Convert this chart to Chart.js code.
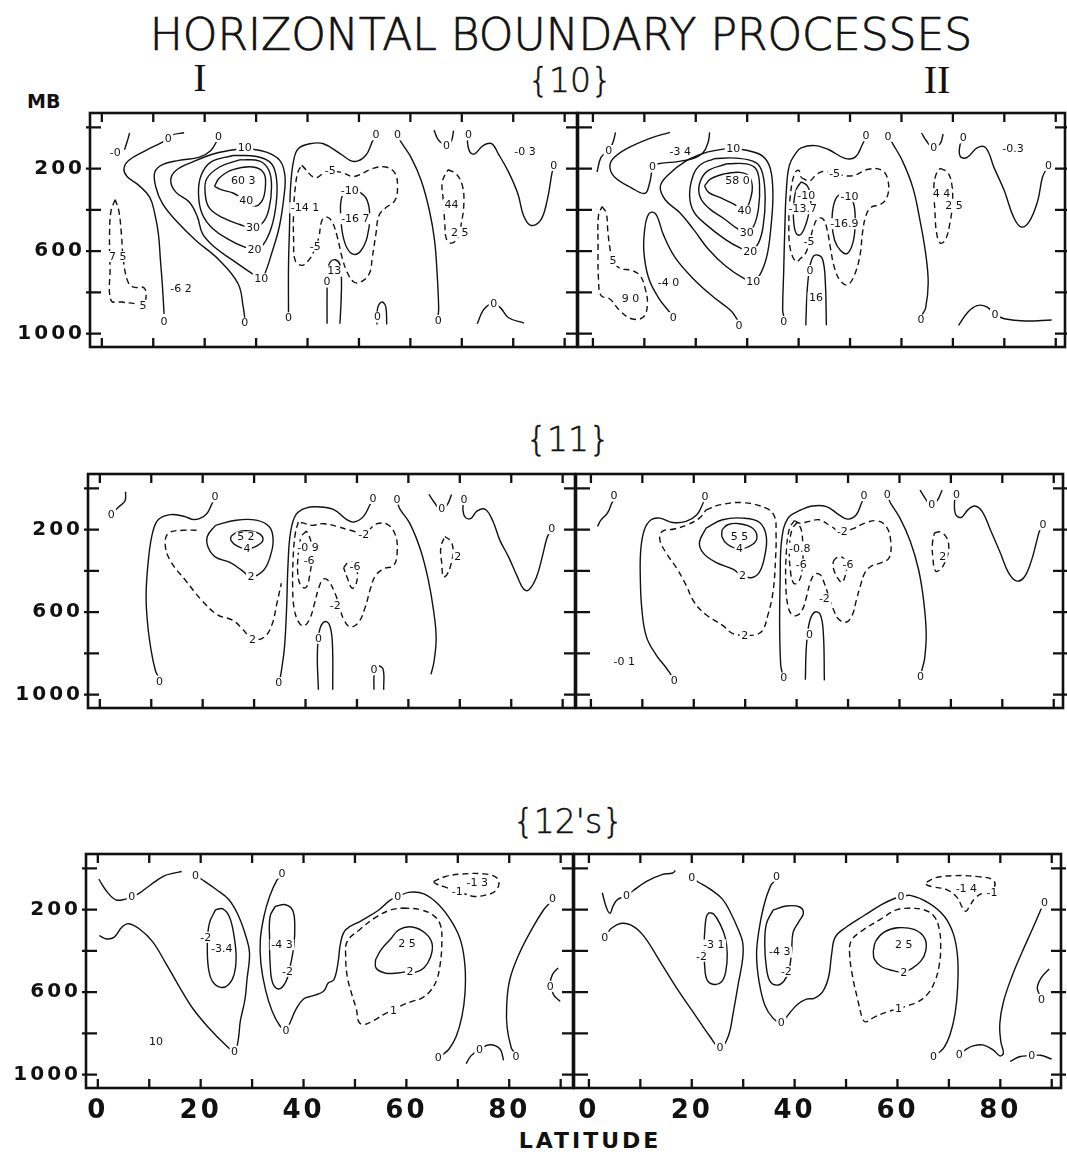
<!DOCTYPE html>
<html><head><meta charset="utf-8">
<script src="https://cdn.jsdelivr.net/npm/chart.js@4/dist/chart.umd.min.js"></script>
<style>
html,body{margin:0;padding:0;background:#fff;}
body{width:1067px;height:1156px;position:relative;overflow:hidden;font-family:"DejaVu Sans",sans-serif;color:#111;}
canvas{position:absolute;}
.t{position:absolute;white-space:nowrap;line-height:1;color:#111;}
</style></head><body>
<div class="t" style="left:561px;top:13px;transform:translateX(-50%);font-size:44px;font-weight:200;-webkit-text-stroke:0.7px #111;">HORIZONTAL BOUNDARY PROCESSES</div>
<div class="t" style="left:27px;top:92px;font-size:19px;font-weight:bold;">MB</div>
<div class="t" style="left:200px;top:58px;transform:translateX(-50%);font-family:'Liberation Serif',serif;font-size:40px;">I</div>
<div class="t" style="left:937px;top:60px;transform:translateX(-50%);font-family:'Liberation Serif',serif;font-size:40px;">II</div>
<div class="t" style="left:570px;top:64px;transform:translateX(-50%);font-size:33px;font-weight:200;-webkit-text-stroke:0.5px #111;">{10}</div>
<div class="t" style="left:568px;top:423px;transform:translateX(-50%);font-size:33px;font-weight:200;-webkit-text-stroke:0.5px #111;">{11}</div>
<div class="t" style="left:568px;top:805px;transform:translateX(-50%);font-size:33px;font-weight:200;-webkit-text-stroke:0.5px #111;">{12's}</div>
<div class="t" style="left:590px;top:1130px;transform:translateX(-50%);font-size:22px;font-weight:bold;letter-spacing:3px;">LATITUDE</div>

<canvas id="cA" width="600" height="274" style="left:2px;top:93px"></canvas>
<canvas id="cB" width="525" height="274" style="left:548px;top:93px"></canvas>
<canvas id="cC" width="600" height="274" style="left:0px;top:454px"></canvas>
<canvas id="cD" width="525" height="274" style="left:546px;top:454px"></canvas>
<canvas id="cE" width="600" height="312" style="left:-2px;top:834px"></canvas>
<canvas id="cF" width="525" height="312" style="left:544px;top:834px"></canvas>

<script>
// ---- axis values ----
const latTickLabels = [0, 20, 40, 60, 80];
const latTickMarks = [0, 10, 20, 30, 40, 50, 60, 70, 80, 90];
const pressTickLabels = [200, 600, 1000];
const pressTickMarks = [0, 200, 400, 600, 800, 1000];

// ---- {10} I : contours as [latitude, pressure mb] ----
const p10I_solid = [
  [[5.4,27],[4.9,71],[4.4,108]],
  [[16,26],[13.7,36],[12.9,52],[11.8,71],[8.5,112],[5.2,160],[4.3,200],[4.9,238],[7.2,281],[9.3,338],[10.3,419],[11,516],[11.4,645],[11.8,775],[12.1,905]],
  [[22.6,55],[21.2,112],[19,144],[15,160],[11.8,180],[10.3,217],[10.5,289],[11.8,370],[14.4,451],[18.3,548],[22.9,645],[26.5,758],[27.5,872],[27.8,925]],
  [[27.8,100],[32,120],[34.6,160],[35.6,233],[35.4,338],[34.5,483],[33,613],[31.7,710],[31,734],[28.8,702],[25.5,645],[21.9,580],[19.6,516],[18.6,435],[17,362],[14.4,314],[13.4,257],[14.4,209],[17.6,168],[22.2,125],[27.8,100]],
  [[25.5,136],[30.1,141],[33,176],[34,257],[33.9,370],[33,483],[31.4,568],[29.7,593],[27.8,581],[24.8,545],[21.6,492],[19.5,419],[18.8,322],[19.3,233],[21.2,168],[25.5,136]],
  [[26.8,157],[30.7,163],[32.5,209],[33,289],[32.5,395],[31.4,459],[29.4,487],[26.8,471],[23.5,438],[20.9,390],[20.1,322],[20.4,249],[22.9,192],[26.8,157]],
  [[21.9,286],[22.9,244],[25.5,205],[29.4,192],[31.5,222],[31.8,289],[31.2,354],[29.7,383],[28.1,357],[25.5,318],[23.2,302],[21.9,286]],
  [[36.3,900],[36.3,677],[36.5,483],[36.7,289],[37.3,160],[38.2,103],[40.5,79],[43.1,79],[46.4,128],[49,165],[51.3,136],[52.7,63],[53.2,45]],
  [[57.7,45],[58.2,71],[60.1,144],[62.1,257],[63.7,403],[64.7,548],[65.2,710],[65.5,872],[65.4,915]],
  [[64.6,12],[65.3,55],[66.3,80],[67.3,85],[68,65],[68.4,15]],
  [[71.3,45],[71.1,71],[71.6,120],[72.5,128],[74.2,87],[75.8,79],[77.1,128],[79.1,217],[80.9,322],[82,427],[83.4,475],[85.3,451],[86.6,354],[87.5,225],[87.8,195]],
  [[48.2,306],[50.1,314],[51.6,354],[52.1,435],[51.6,532],[50.4,597],[49,616],[47.6,581],[46.7,500],[46.4,386],[46.9,325],[48.2,306]],
  [[43.8,952],[43.8,807],[43.9,694],[44.4,653],[45.4,642],[46.3,665],[46.6,742],[46.5,855],[46.3,952]],
  [[53.5,956],[53.6,880],[54.4,847],[55.2,868],[55.4,956]],
  [[73,952],[74.2,885],[75.6,855],[76.2,855],[77.5,874],[79.1,923],[82.1,949]]
];
const p10I_dashed = [
  [[2.6,351],[1.8,403],[1.5,516],[1.6,677],[1.8,839],[3.9,847],[6.5,855],[8,863],[8.6,823],[8.2,778],[6.2,775],[5.1,750],[4.2,645],[3.8,516],[3.3,403],[2.6,351]],
  [[38.9,184],[41.5,244],[43.5,217],[46.4,217],[49,238],[52.6,200],[55.2,192],[57,222],[57.5,289],[57,354],[55.2,390],[53.9,427],[53.3,516],[52.6,629],[52,710],[50.3,750],[49,750],[47.7,702],[46.7,629],[45.8,532],[44.8,459],[43.8,435],[42.8,451],[42.2,532],[41.3,597],[40.2,645],[38.9,669],[37.6,645],[37.3,548],[37.3,403],[37.7,273],[38.2,212],[38.9,184]],
  [[67.3,205],[68.9,225],[70.1,281],[70.4,370],[69.9,467],[69.3,532],[68,561],[67,540],[66.7,467],[66.4,354],[66.2,265],[67.3,205]]
];
const p10I_labels = [
  ["-0",2.6,120],["0",12.9,52],["0",12.1,944],["0",22.7,44],["0",27.8,949],["10",27.8,100],["10",31,734],
  ["20",29.7,593],["30",29.4,487],["40",28.1,357],["60 3",27.5,257],["-6 2",15.4,783],["7 5",3.1,626],["5",8,863],
  ["0",36.3,923],["0",53.3,36],["0",57.5,36],["0",65.4,936],["0",67,86],["0",71.3,36],["0",87.9,184],["-0 3",82.3,115],
  ["-5",44.4,212],["-5",41.5,576],["-14 1",39.5,390],["-10",48.2,306],["-16 7",49.3,443],["0",43.8,750],["13",45.2,697],
  ["0",53.6,920],["0",76.2,855],["44",68,374],["2 5",69.6,508]
];

// ---- {10} II ----
const p10II_solid = [
  [[4.4,24],[3.9,72],[3.1,112],[1.6,144],[0.8,216]],
  [[15,24],[11.1,53],[6.5,104],[3.9,152],[3.3,192],[4.2,240],[7.5,293],[10.1,320],[11,272],[11.4,219],[11.6,192],[12.7,176],[15.7,168],[19.3,152],[21.4,123],[22.4,72],[22.7,24]],
  [[15.2,905],[12.7,824],[10.8,728],[9.9,600],[10.1,488],[10.6,432],[11.4,411],[12.4,427],[13.7,520],[16,632],[19.6,736],[23.5,824],[26.8,888],[28.1,933]],
  [[27.3,101],[30.1,112],[33,139],[34.5,200],[35,328],[34.6,488],[33.9,616],[32.7,704],[31.2,747],[29.1,728],[25.8,672],[22.5,592],[19.6,496],[17,416],[14.1,352],[13.1,288],[14.4,235],[18.3,160],[22.2,120],[25.8,104],[27.3,101]],
  [[23.5,152],[27.8,149],[31.7,171],[33,224],[33.5,344],[33.1,480],[32.2,560],[30.6,603],[28.8,587],[25.8,544],[22.2,475],[19.6,408],[18.8,328],[19.5,232],[20.9,181],[23.5,152]],
  [[26.1,176],[30.1,178],[31.8,205],[32.4,280],[32.2,392],[31.3,477],[29.9,512],[28.1,491],[25.5,443],[22.7,395],[20.9,341],[20.7,277],[22.2,213],[26.1,176]],
  [[21.7,283],[22.9,250],[25.5,226],[28.5,218],[30.3,235],[31,288],[30.6,350],[29.9,392],[29.3,402],[27.5,373],[24.8,341],[22.5,315],[21.7,283]],
  [[37.1,915],[36.9,888],[37.1,696],[37.3,504],[37.6,312],[38.2,184],[39.5,123],[40.5,99],[43.1,88],[45.8,107],[49,150],[51,144],[52.4,83],[53,50]],
  [[57.6,50],[58.4,83],[60.2,163],[62.2,291],[63.6,451],[64.7,611],[65.2,755],[64.7,875],[64,910]],
  [[63.9,27],[64.9,67],[66,96],[67.5,80],[68.1,32]],
  [[72,60],[71.4,83],[71.4,139],[72.7,147],[74.7,99],[76.4,99],[78,195],[80,307],[81.8,435],[83.3,483],[84.9,454],[86.5,355],[87.4,243],[88.3,195]],
  [[40.5,264],[39.5,304],[39,392],[39.2,488],[40,523],[41,496],[42,416],[42.4,336],[41.7,283],[40.5,264]],
  [[50,336],[50.8,379],[51,467],[50.6,555],[49.5,611],[48.2,598],[47,547],[46.5,459],[46.9,368],[48,326],[50,336]],
  [[41.4,960],[41.6,819],[42,707],[42.7,632],[43.7,619],[44.7,643],[45.2,755],[45.4,960]],
  [[71.1,960],[72.9,896],[74.7,864],[76.6,870],[78.2,907],[80,928],[84,939],[89.2,934]]
];
const p10II_dashed = [
  [[1.8,384],[2.6,416],[2.9,504],[3.4,600],[3.9,645],[5.2,683],[7.5,693],[9.2,720],[10.1,776],[10.6,856],[9.8,920],[7.5,928],[5.2,888],[3.3,832],[1.6,816],[1.1,744],[1,584],[1.1,424],[1.8,384]],
  [[40.5,243],[42.1,259],[43.4,230],[44.7,214],[47,224],[50.3,235],[53.6,203],[56.2,208],[57.4,259],[57.2,339],[55.9,374],[54.1,387],[53.1,427],[52.4,515],[52,611],[51,707],[49.6,763],[48.2,747],[47,683],[46.2,587],[45.5,491],[44.7,443],[43.7,443],[42.9,483],[42.2,547],[41.4,608],[40.4,635],[39.5,651],[38.4,592],[38.1,472],[38.4,328],[39.2,224],[40,208],[40.5,243]],
  [[67.5,198],[69,219],[69.8,278],[69.9,371],[69.4,467],[68.5,547],[67.5,560],[66.8,507],[66.5,403],[66.3,291],[66.7,230],[67.5,198]]
];
const p10II_labels = [
  ["0",3.1,112],["0",11.6,192],["-3 4",17,117],["0",15.6,923],["0",28.4,960],["-4 0",14.7,752],["10",27.3,101],["10",31.2,747],
  ["20",30.6,603],["30",29.9,512],["40",29.5,405],["58 0",28.1,256],["5",3.9,645],["9 0",7.3,832],["0",37.1,941],["0",53.1,40],
  ["0",57.4,43],["0",63.8,934],["0",66.3,99],["0",72,51],["0",88.6,184],["-0.3",81.7,102],["-5",47,224],["-5",42,555],
  ["-10",41.5,330],["-13.7",40.8,395],["-10",49.9,336],["-16.9",48.9,467],["0",42.2,694],["16",43.4,827],["4 4",67.8,323],
  ["2 5",70.2,379],["0",78.2,907]
];

// ---- {11} I ----
const p11I_solid = [
  [[5,16],[4.9,60],[3.7,89],[2.8,112]],
  [[22.4,55],[21.9,70],[20.7,125],[18.5,151],[16.3,135],[13.7,127],[11.4,151],[10.3,211],[9.5,333],[9,512],[9.3,659],[10,789],[10.8,883],[11.3,910]],
  [[22.5,179],[26.5,154],[30.4,154],[33,187],[33.7,252],[33.1,333],[31.8,398],[29.4,428],[27.5,395],[25.2,358],[22.5,333],[21.1,288],[20.9,233],[22.5,179]],
  [[25.5,233],[26.8,211],[29.1,206],[31.2,223],[31.7,252],[30.7,276],[28.6,293],[26.5,276],[25.5,252],[25.5,233]],
  [[35.1,915],[35.3,886],[35.9,772],[36.3,593],[36.6,366],[37.1,211],[38.2,125],[40.2,94],[42.2,89],[45.4,102],[48,151],[49.4,163],[51.2,138],[52.6,76],[53,60]],
  [[42.5,976],[42.3,805],[42.7,691],[43.6,647],[44.6,659],[45.2,740],[45.3,976]],
  [[53.3,976],[53.4,894],[54.2,862],[55.1,878],[55.2,976]],
  [[57.9,65],[58.3,98],[60.3,171],[62.4,301],[63.9,447],[64.9,593],[65.4,724],[65,837],[64.4,902]],
  [[64,29],[65.2,73],[66.2,102],[67.5,81],[68.4,29]],
  [[70.8,65],[70.6,98],[71,138],[72.1,146],[73.4,109],[75,102],[76.5,163],[77.8,252],[79.5,333],[81.1,423],[82.4,488],[83.4,493],[84.9,431],[86.1,325],[86.9,244],[87.6,205]]
];
const p11I_dashed = [
  [[18.8,203],[16.3,203],[13.4,216],[12.7,268],[13.7,350],[16.7,447],[19.9,545],[22.9,613],[25.8,639],[27.8,683],[29.7,732],[32,720],[33.5,659],[34.4,561],[35.3,460]],
  [[40.2,207],[39.2,233],[38.6,317],[38.5,415],[39.1,472],[40.1,480],[40.8,423],[41.2,333],[41,252],[40.2,207]],
  [[38.6,163],[38,220],[37.6,333],[37.5,480],[37.8,585],[38.7,650],[39.7,667],[40.8,634],[41.8,553],[42.6,480],[43.5,439],[44.4,447],[45.8,512],[46.6,577],[47.5,639],[48.7,672],[50.3,650],[51.6,577],[52.6,488],[53.6,423],[55.2,390],[57.1,374],[57.8,317],[57.5,228],[55.9,174],[53.6,174],[51.6,216],[48.7,203],[46.1,184],[43.5,171],[41.2,179],[39.5,167],[38.6,163]],
  [[47.4,385],[48.4,358],[49.7,363],[50.1,415],[49.7,472],[49,483],[48.2,439],[47.4,385]],
  [[67.1,233],[68.2,255],[68.7,298],[68.3,366],[67.5,418],[66.8,428],[66.5,366],[66.3,285],[67.1,233]]
];
const p11I_labels = [
  ["0",2.2,125],["0",22.4,41],["0",11.6,935],["2",29.7,732],["2",29.4,428],["4",28.6,293],["5 2",28.4,236],["0",34.8,943],
  ["0",53.1,49],["-0 9",40.5,285],["-6",40.7,350],["-2",51.3,223],["-2",45.8,569],["-6",49.6,380],["0",42.5,727],["0",53.3,880],
  ["0",57.8,52],["0",66.5,98],["0",70.8,54],["0",87.9,195],["2",69.6,333]
];

// ---- {11} II ----
const p11II_solid = [
  [[4.4,55],[4.1,69],[3.2,120],[1.9,155],[1.3,184]],
  [[22,55],[21.8,72],[20.6,128],[18.5,160],[15.9,165],[13.4,144],[11.7,152],[10.4,200],[9.7,296],[9.6,424],[9.9,584],[10.8,720],[12.7,808],[14.7,872],[15.6,905]],
  [[22.4,192],[25.6,152],[29.5,144],[32.8,165],[34.1,232],[33.8,328],[32.8,405],[31.4,432],[29.5,424],[27.6,392],[24.2,357],[21.9,315],[21.1,264],[22.4,192]],
  [[25.5,200],[26.6,176],[28.9,171],[31.4,192],[32.3,235],[31.4,272],[28.9,293],[26.6,272],[25.5,235],[25.5,200]],
  [[37.2,895],[36.9,856],[36.7,664],[36.8,440],[37.1,248],[38.3,145],[40.6,107],[43.1,85],[45.8,88],[48.4,131],[50,149],[51.6,128],[52.6,72],[53,50]],
  [[41.7,928],[41.9,768],[42.5,648],[43.5,600],[44.6,611],[45.2,704],[45.4,931]],
  [[57.8,45],[58.3,72],[60.1,144],[62.1,256],[63.7,392],[64.7,544],[65.2,704],[64.9,824],[64.4,877],[64.2,895]],
  [[64,8],[65,48],[66.1,80],[67.4,56],[68.3,8]],
  [[70.9,45],[70.7,64],[70.9,125],[72,141],[73.3,104],[74.6,85],[76.1,112],[77.8,208],[79.6,312],[81.2,408],[82.7,448],[84.2,432],[85.6,355],[86.6,264],[87.2,208],[87.6,190]]
];
const p11II_dashed = [
  [[22.4,104],[25,80],[29.5,69],[34.1,96],[35.7,136],[36,216],[35.9,344],[35.4,504],[34.4,616],[33.4,688],[32.1,709],[29.9,712],[27.6,704],[25.6,664],[22.4,613],[20.1,552],[18.4,464],[16.6,384],[14.6,312],[13.4,248],[13.9,208],[16.2,197],[18.8,176],[21.1,144],[22.4,104]],
  [[40.1,165],[39.1,200],[38.6,288],[38.8,400],[39.4,459],[40.3,456],[41.1,392],[41.2,288],[40.9,200],[40.1,165]],
  [[39.6,155],[38.6,195],[38,312],[37.9,472],[38.3,568],[39,610],[40.1,616],[41.2,584],[41.9,528],[42.6,461],[43.5,416],[44.6,419],[45.4,461],[46.3,528],[47.1,584],[48.2,635],[49.7,648],[50.8,616],[51.6,544],[52.4,472],[53.3,408],[54.6,376],[56.5,360],[58,336],[58.3,256],[57.4,184],[55.6,157],[53.3,168],[51,195],[48.7,211],[46.7,184],[44.4,152],[42.5,160],[40.5,168],[39.6,155]],
  [[47.1,355],[47.8,336],[49,336],[49.7,371],[49.5,419],[48.8,456],[48,435],[47.2,392],[47.1,355]],
  [[66.8,216],[67.8,211],[69,232],[69.6,280],[69.2,336],[68,392],[67,400],[66.5,336],[66.4,269],[66.8,216]]
];
const p11II_labels = [
  ["0",4.5,37],["0",22.2,40],["0",16.2,933],["-0 1",6.5,840],["2",29.9,712],["2",29.5,424],["4",28.9,293],["5 5",28.9,235],
  ["0",37.5,920],["0",53.1,35],["-0.8",40.6,290],["-6",40.9,368],["-2",48.9,211],["-2",45.4,536],["-6",50,368],["0",42.5,707],
  ["0",57.6,29],["0",64.1,912],["0",66.3,77],["0",71.1,29],["0",87.9,176],["2",68.4,330]
];

// ---- {12's} I ----
const p12I_solid = [
  [[0.2,52],[1.6,107],[3.5,152],[5.4,149],[6.6,139],[8.1,120],[10.3,79],[12.9,36],[14.8,23],[16.3,15]],
  [[0.3,326],[1.7,342],[3.2,333],[4.7,284],[6,268],[8.1,294],[10.6,354],[13.2,459],[15.8,572],[18.4,677],[21.6,774],[24.8,855],[26.6,887],[27.3,831],[27.7,742],[28.6,637],[29,540],[29.5,410],[28.8,330],[27.4,233],[25.5,152],[22.9,100],[20.3,55],[19.6,45]],
  [[22.9,200],[24.3,196],[25.6,236],[26.5,330],[26.9,435],[26.5,515],[25.4,564],[23.9,577],[22.3,548],[21.5,483],[21.3,362],[21.7,265],[22.9,200]],
  [[35.6,40],[34.8,58],[33.4,136],[32.3,233],[31.6,346],[31.7,459],[32.6,588],[33.9,693],[35.4,763],[36.6,785],[37.4,747],[38.5,685],[40,633],[41.9,617],[43.9,596],[44.8,556],[45.9,540],[46.7,459],[47.2,362],[48.2,297],[51.2,254],[54.5,204],[56.8,155],[58.3,139],[60.4,116],[63.4,123],[66.3,176],[68.9,262],[70.6,354],[71.4,475],[71.4,604],[70.8,718],[69.7,814],[68.3,876],[67,905]],
  [[34.5,184],[36.5,176],[37.9,204],[38.3,281],[38.1,378],[37.4,475],[36.6,548],[35.2,585],[34,556],[33.5,459],[33.4,346],[33.5,233],[34.5,184]],
  [[54,443],[55.1,394],[56.8,346],[58.6,297],[61.1,284],[63.7,314],[65,365],[64.7,430],[63.4,483],[61.7,504],[60.7,499],[58.4,507],[55.8,507],[54.1,483],[54,443]],
  [[80.9,890],[80.4,871],[79.6,774],[79.5,669],[80.1,540],[82,410],[84.7,281],[86.6,204],[87.7,171],[88.1,158]],
  [[89.5,483],[88.4,515],[88,556],[88.6,612],[89.9,645]],
  [[71.6,947],[72.6,908],[74.2,879],[76.2,855],[78.2,876],[78.9,931]]
];
const p12I_dashed = [
  [[65.3,63],[67.6,39],[70.9,27],[74.9,26],[77.4,42],[78,74],[77.2,112],[75.4,129],[73.2,136],[71.4,124],[69.6,112],[67.6,91],[65.7,74],[65.3,63]],
  [[59.4,192],[62.7,200],[65.3,229],[66.6,273],[66.9,354],[66.6,459],[65.9,540],[64.6,596],[63,629],[61.1,645],[59.1,664],[57.5,688],[55.8,705],[53.9,734],[51.6,758],[50.7,742],[50.3,685],[49.4,612],[48.5,524],[48.2,427],[48.5,354],[50.9,297],[54.1,236],[57.1,200],[59.4,192]]
];
const p12I_labels = [
  ["0",6.6,139],["0",19,36],["0",26.6,887],["-2",21,334],["-3.4",24.1,391],["0",35.8,23],["0",36.6,785],["0",58.3,139],
  ["0",66.2,919],["-4 3",35.8,370],["-2",36.9,499],["-1 3",73.8,71],["-1",69.9,112],["1",57.5,688],["2",60.7,499],["2 5",60.1,367],
  ["0",81.3,915],["0",88.4,145],["0",88,572],["0",74.2,879],["10",11.3,839]
];

// ---- {12's} II ----
const p12II_solid = [
  [[2.6,118],[3.4,190],[4.1,218],[4.7,182],[5.6,150],[7.3,134],[8.7,106],[11.3,62],[14.2,30],[16.3,22],[16.8,10]],
  [[3.8,310],[4.2,294],[6.1,267],[8.2,275],[10.6,326],[13.9,454],[17.1,582],[20.3,698],[23.5,814],[25.5,870],[27.1,814],[28.1,694],[29,566],[29.9,438],[29.9,358],[29,294],[27.7,222],[26,150],[23.5,99],[21.3,67],[20.5,55]],
  [[23.4,214],[24.3,222],[25.5,270],[26.5,334],[26.9,414],[26.6,502],[25.8,550],[24.4,563],[23,542],[22.5,470],[22.4,374],[22.6,278],[22.9,230],[23.4,214]],
  [[36.3,55],[35.3,86],[34,182],[33,310],[32.6,422],[33.1,550],[34.2,662],[35.8,726],[37.4,746],[39,702],[40.6,659],[42.3,634],[43.8,630],[45.4,600],[46.6,528],[47.2,416],[47.9,333],[50,285],[53.6,227],[56.9,176],[59.3,147],[60.7,139],[62.5,131],[66.1,168],[69.1,232],[70.9,320],[71.7,432],[71.7,576],[71.2,704],[70.2,808],[69.1,867],[68,895]],
  [[35.8,202],[38.4,182],[41,187],[41.7,218],[40.8,259],[39.7,310],[39.4,406],[38.9,494],[37.9,547],[36.5,566],[35.2,547],[34.5,478],[34.2,374],[34.5,270],[35.8,202]],
  [[55.3,400],[55.8,352],[57.4,309],[60,288],[63.2,296],[65.3,339],[65.5,400],[64.5,451],[62.6,488],[61.2,504],[59.2,496],[56.9,477],[55.5,440],[55.3,400]],
  [[88.2,180],[87.6,216],[86.2,296],[84.2,408],[82.2,528],[80.6,648],[79.9,752],[80.1,840],[80.6,896],[79.9,909],[78.6,880],[76.6,856],[74.7,861],[73.2,880],[72.6,893]],
  [[89.5,488],[88,528],[87.2,573],[87.4,600],[87.8,618]],
  [[81.9,936],[83.9,912],[86.1,909],[87.8,906],[90,925]]
];
const p12II_dashed = [
  [[62.5,192],[59.9,200],[56.6,248],[53,304],[51,352],[50.7,416],[51.3,528],[52.3,640],[53.2,728],[53.8,744],[55.6,720],[58,696],[60.2,680],[62.2,664],[63.9,648],[65.8,611],[67.2,552],[68.1,472],[68.4,384],[68.1,291],[67.1,232],[65.1,200],[62.5,192]],
  [[65.7,67],[67.4,45],[71.1,35],[75.7,40],[78.6,56],[78.8,93],[77,112],[75.1,144],[74,184],[73.3,208],[72.5,184],[71.7,144],[69.7,104],[67.1,90],[65.7,80],[65.7,67]]
];
const p12II_labels = [
  ["0",7.3,134],["0",3.1,334],["0",25.5,870],["0",20,46],["-3 1",24.3,371],["-2",21.9,426],["0",36.5,38],["0",37.4,746],
  ["0",60.7,139],["0",67,912],["-4 3",37.1,406],["-2",38.4,499],["1",60.2,680],["2",61.2,504],["2 5",61.2,368],["-1 4",73.4,96],
  ["-1",78.4,115],["0",88.6,168],["0",72,904],["0",88,635],["0",86.1,909]
];

// ---- drawing ----
const INK = '#111';
function decor(spec) {
  return {
    id: 'decor',
    beforeDraw(chart) {
      // wider spacing of the axis numerals, as in the lettered original
      chart.ctx.letterSpacing = '3px';
    },
    afterDatasetsDraw(chart) {
      const {ctx, scales: {x, y}} = chart;
      ctx.save();
      ctx.letterSpacing = '0px';
      ctx.font = '11px "DejaVu Sans", sans-serif';
      ctx.textAlign = 'center';
      ctx.textBaseline = 'middle';
      spec.labels.forEach(([t, lat, p]) => {
        const px = x.getPixelForValue(lat), py = y.getPixelForValue(p);
        const w = ctx.measureText(t).width;
        ctx.fillStyle = '#fff';
        ctx.fillRect(px - w / 2 - 1.5, py - 5.5, w + 3, 11);
        ctx.fillStyle = INK;
        ctx.fillText(t, px, py + 0.5);
      });
      ctx.restore();
    },
    afterDraw(chart) {
      const {ctx, chartArea: a, scales: {x, y}} = chart;
      ctx.save();
      ctx.strokeStyle = INK;
      ctx.lineWidth = 2.6;
      ctx.strokeRect(a.left, a.top, a.right - a.left, a.bottom - a.top);
      ctx.lineWidth = 2.3;
      ctx.beginPath();
      latTickMarks.forEach(v => {
        const px = x.getPixelForValue(v);
        ctx.moveTo(px, a.top); ctx.lineTo(px, a.top + 9);
        ctx.moveTo(px, a.bottom); ctx.lineTo(px, a.bottom - 9);
      });
      pressTickMarks.forEach(v => {
        const py = y.getPixelForValue(v);
        if (spec.side === 'left') {
          ctx.moveTo(a.left - 4, py); ctx.lineTo(a.left + 11, py);
        } else {
          ctx.moveTo(a.left - 12, py); ctx.lineTo(a.left + 14, py);
          ctx.moveTo(a.right - 10, py); ctx.lineTo(a.right + 5, py);
        }
      });
      ctx.stroke();
      ctx.restore();
    }
  };
}

function makePanel(id, solid, dashed, labels, side, bottom) {
  const toPts = c => c.map(([lat, p]) => ({x: lat, y: p}));
  const base = {showLine: true, pointRadius: 0, pointHoverRadius: 0, borderColor: INK, borderWidth: 1.4, tension: 0.4, fill: false};
  const datasets = [];
  solid.forEach(c => datasets.push(Object.assign({}, base, {data: toPts(c)})));
  dashed.forEach(c => datasets.push(Object.assign({}, base, {data: toPts(c), borderDash: [6, 4]})));
  const isLeft = side === 'left';
  const xMin = isLeft ? -2.3 : -2.9;
  new Chart(document.getElementById(id), {
    type: 'scatter',
    data: {datasets},
    options: {
      responsive: false, animation: false, events: [],
      layout: {autoPadding: false, padding: isLeft
        ? {left: 0, right: 25, top: 20, bottom: bottom ? 18 : 20}
        : {left: 30, right: 8, top: 20, bottom: bottom ? 18 : 20}},
      plugins: {legend: {display: false}, tooltip: {enabled: false}},
      scales: {
        x: {
          type: 'linear', position: 'bottom', min: xMin, max: xMin + 94.7,
          display: bottom,
          afterFit: s => { s.height = bottom ? 40 : 0; },
          grid: {display: false, drawTicks: false}, border: {display: false},
          ticks: {stepSize: 10, includeBounds: false, autoSkip: false, maxRotation: 0, padding: 8, color: INK,
            font: {family: 'DejaVu Sans', size: 26, weight: 'bold'},
            callback: v => latTickLabels.includes(v) ? String(v) : ''}
        },
        y: {
          type: 'linear', reverse: true, min: -70, max: 1065,
          display: isLeft,
          afterFit: s => { s.width = isLeft ? 88 : 0; },
          grid: {display: false, drawTicks: false}, border: {display: false},
          ticks: {stepSize: 200, includeBounds: false, autoSkip: false, padding: 5, color: INK,
            font: {family: 'DejaVu Sans', size: 20, weight: 'bold'},
            callback: v => pressTickLabels.includes(v) ? String(v) : ''}
        }
      }
    },
    plugins: [decor({labels, side})]
  });
}

makePanel('cA', p10I_solid, p10I_dashed, p10I_labels, 'left', false);
makePanel('cB', p10II_solid, p10II_dashed, p10II_labels, 'right', false);
makePanel('cC', p11I_solid, p11I_dashed, p11I_labels, 'left', false);
makePanel('cD', p11II_solid, p11II_dashed, p11II_labels, 'right', false);
makePanel('cE', p12I_solid, p12I_dashed, p12I_labels, 'left', true);
makePanel('cF', p12II_solid, p12II_dashed, p12II_labels, 'right', true);
</script>
</body></html>
